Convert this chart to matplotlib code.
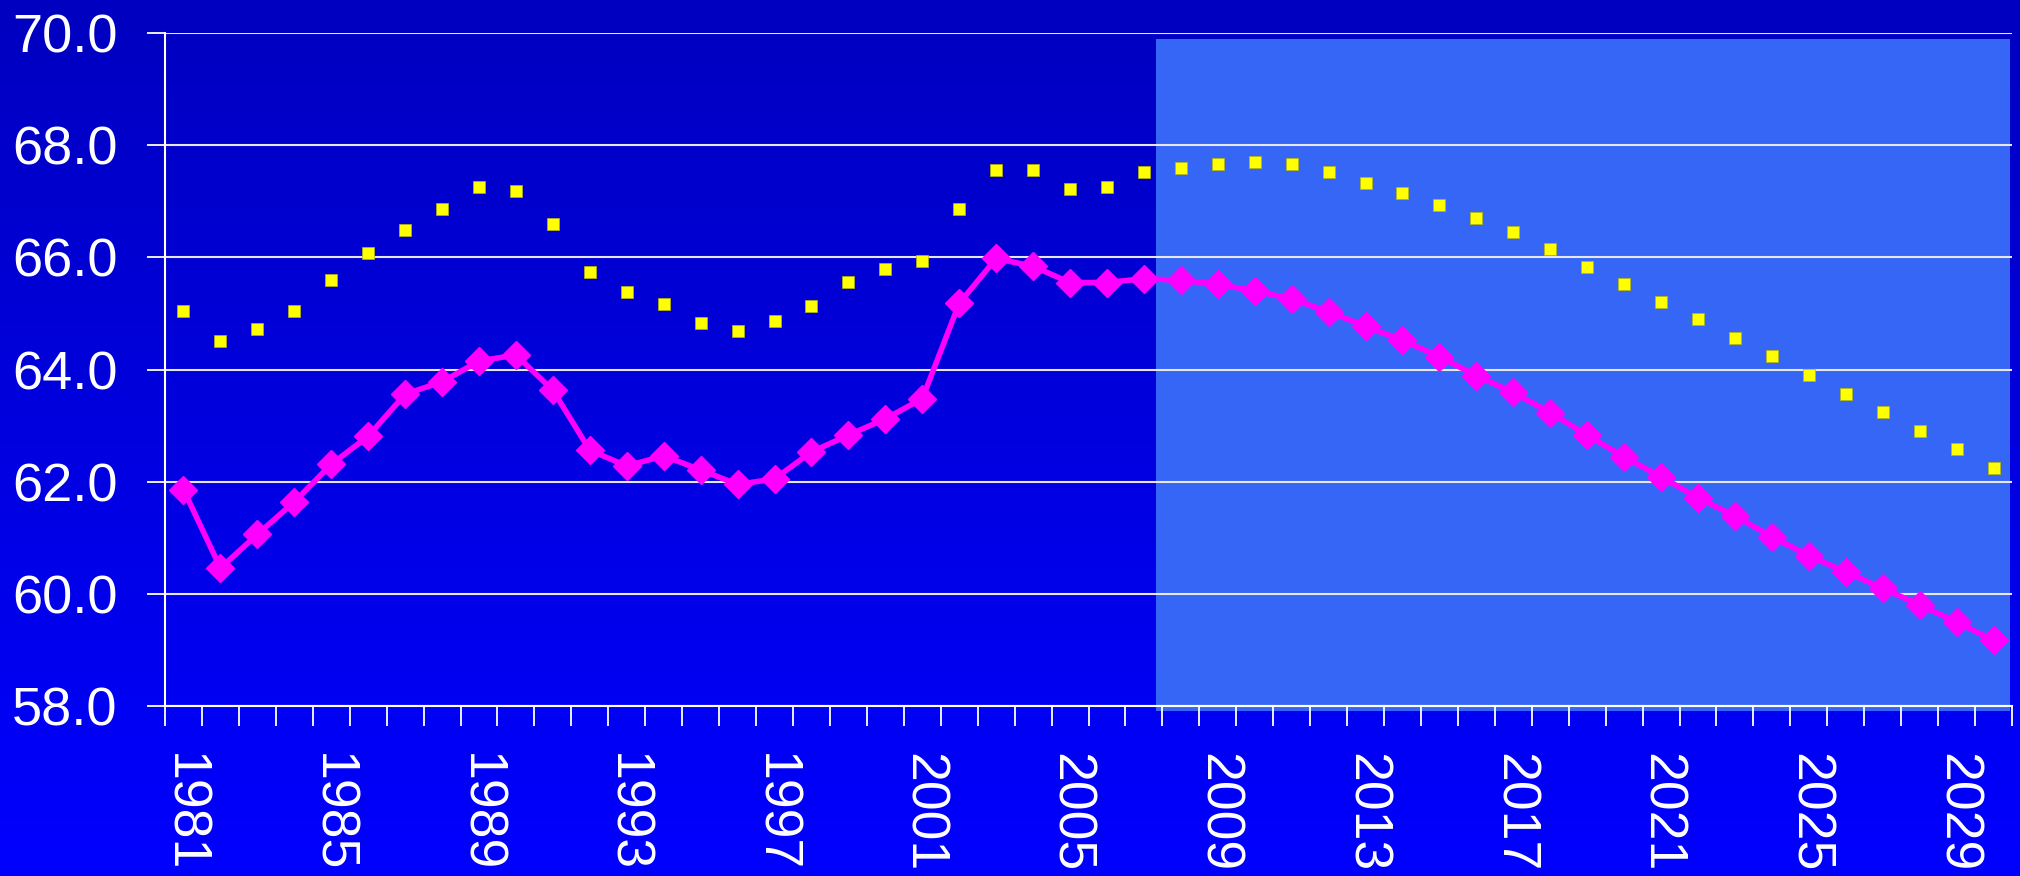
import numpy as np
import matplotlib
matplotlib.use("Agg")
import matplotlib.pyplot as plt
from matplotlib.patches import Rectangle

plt.rcParams['font.family'] = ['Liberation Sans', 'DejaVu Sans']

years = list(range(1981, 2031))
label_years = list(range(1981, 2030, 4))

series_line = [61.86, 60.46, 61.06, 61.64, 62.31, 62.81, 63.56, 63.78, 64.15, 64.26,
               63.63, 62.56, 62.28, 62.46, 62.21, 61.95, 62.05, 62.53, 62.83, 63.12,
               63.48, 65.18, 65.98, 65.84, 65.55, 65.55, 65.62, 65.59, 65.52, 65.40,
               65.26, 65.03, 64.77, 64.52, 64.23, 63.89, 63.59, 63.23, 62.83, 62.44,
               62.09, 61.71, 61.39, 61.02, 60.68, 60.39, 60.10, 59.80, 59.50, 59.17]

series_dots = [65.05, 64.50, 64.72, 65.05, 65.59, 66.08, 66.49, 66.86, 67.25, 67.18,
               66.59, 65.74, 65.38, 65.16, 64.83, 64.68, 64.86, 65.13, 65.56, 65.79,
               65.93, 66.86, 67.55, 67.55, 67.22, 67.25, 67.52, 67.59, 67.66, 67.70,
               67.66, 67.52, 67.33, 67.15, 66.93, 66.70, 66.45, 66.15, 65.82, 65.52,
               65.20, 64.90, 64.57, 64.24, 63.91, 63.57, 63.25, 62.91, 62.59, 62.25]

y_ticks = [58, 60, 62, 64, 66, 68, 70]
shade_start = 2007.33

W, H = 2020, 876
fig = plt.figure(figsize=(W / 100, H / 100), dpi=100)

# background gradient
bg = fig.add_axes([0, 0, 1, 1], zorder=-10)
grad = np.zeros((256, 2, 3))
t = np.linspace(0, 1, 256)[:, None]
grad[:, :, 2] = (192 + (255 - 192) * t) / 255.0
bg.imshow(grad, aspect='auto', extent=[0, 1, 0, 1], origin='upper')
bg.axis('off')

ax = fig.add_axes([165 / W, 170 / H, 1847 / W, 673 / H])
ax.patch.set_alpha(0)
ax.set_xlim(1980.5, 2030.5)
ax.set_ylim(58, 70)

# projection shading
ax.add_patch(Rectangle((shade_start, 57.91), 2030.45 - shade_start, 69.89 - 57.91,
                       facecolor='#3666F6', edgecolor='none', zorder=0.5, clip_on=False))

ax.set_yticks(y_ticks)
ax.set_yticklabels([f"{v:.1f}" for v in y_ticks])
ax.yaxis.grid(True, color='#E6E6F0', lw=1.5, zorder=1)
ax.set_axisbelow(False)

ax.set_xticks(np.arange(1980.5, 2031, 1))
ax.set_xticklabels([])
ax.set_xticks(label_years, minor=True)
ax.set_xticklabels([str(y) for y in label_years], minor=True, rotation=270)

ax.tick_params(axis='x', which='major', direction='out', length=14.5, width=1.3, color='white')
ax.tick_params(axis='x', which='minor', length=0, pad=34, labelsize=38.5, labelcolor='white')
ax.tick_params(axis='y', direction='out', length=13, width=1.3, color='white',
               labelsize=39, labelcolor='white', pad=21)

for s in ['top', 'right']:
    ax.spines[s].set_visible(False)
for s in ['left', 'bottom']:
    ax.spines[s].set_color('white')
    ax.spines[s].set_linewidth(1.5)
    ax.spines[s].set_zorder(3)

ax.plot(years, series_dots, linestyle='none', marker='s', markersize=8.8,
        markerfacecolor='#FFFF00', markeredgecolor='#B8B800', markeredgewidth=0.5, zorder=4)
ax.plot(years, series_line, color='#FF00FF', lw=4, marker='D', markersize=14.2,
        markerfacecolor='#FF00FF', markeredgecolor='#FF00FF', zorder=5)

fig.savefig('out.png', dpi=100)
